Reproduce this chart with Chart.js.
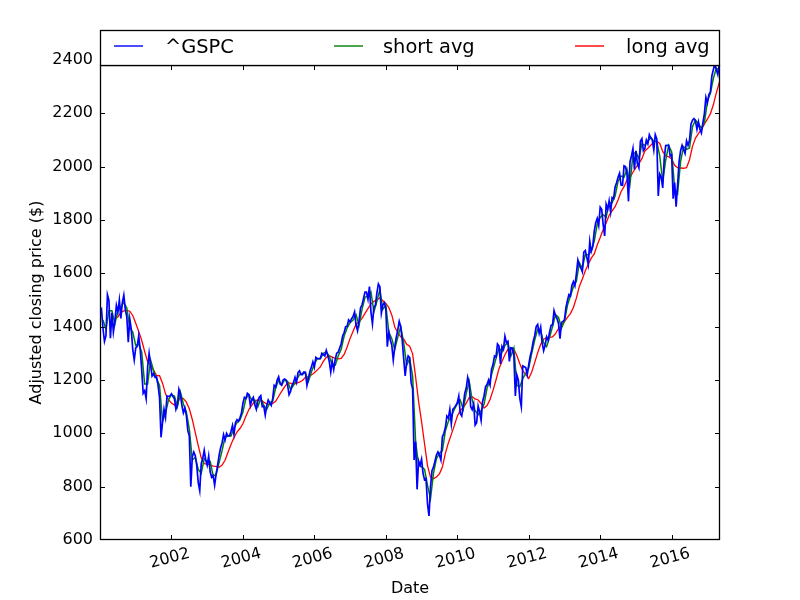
<!DOCTYPE html>
<html>
<head>
<meta charset="utf-8">
<title>^GSPC adjusted close</title>
<script src="https://cdn.jsdelivr.net/npm/chart.js@4.4.1/dist/chart.umd.min.js"></script>
<style>
  html, body { margin: 0; padding: 0; background: #fff; }
  canvas { display: block; }
</style>
</head>
<body>
<canvas id="priceChart" width="800" height="600"></canvas>
<script>
// ^GSPC adjusted close, two readings a month (month start, mid month), from Jan 2000
const gspc = [
  1455, 1465, 1394, 1345, 1366, 1520, 1499, 1357, 1452, 1380, 1421, 1480, 1455, 1500, 1431, 1490, 1518, 1465, 1437, 1342, 1429, 1390, 1315, 1275, 1320,
  1326, 1366, 1316, 1240, 1150, 1160, 1130, 1249, 1300, 1256, 1215, 1224, 1210, 1211, 1180, 1134, 985, 1041, 1090, 1060, 1140, 1139, 1140, 1148,
  1138, 1130, 1090, 1107, 1165, 1147, 1105, 1077, 1095, 1067, 1010, 990, 800, 912, 930, 916, 880, 815, 785, 886, 905, 936, 900, 880,
  915, 856, 835, 841, 805, 848, 880, 917, 945, 964, 995, 975, 1000, 990, 990, 1008, 1030, 996, 1040, 1051, 1045, 1058, 1075, 1112,
  1135, 1131, 1150, 1145, 1105, 1126, 1135, 1107, 1090, 1121, 1135, 1141, 1100, 1102, 1068, 1104, 1125, 1115, 1105, 1130, 1180, 1174, 1200, 1212,
  1185, 1181, 1200, 1204, 1200, 1181, 1145, 1157, 1180, 1191, 1210, 1191, 1228, 1234, 1220, 1220, 1230, 1229, 1180, 1207, 1232, 1249, 1268, 1248,
  1285, 1280, 1280, 1281, 1300, 1295, 1290, 1311, 1292, 1270, 1230, 1270, 1240, 1277, 1300, 1304, 1320, 1336, 1365, 1378, 1400, 1401, 1425, 1418,
  1430, 1438, 1455, 1407, 1385, 1421, 1470, 1482, 1505, 1530, 1530, 1503, 1550, 1455, 1410, 1474, 1480, 1527, 1560, 1549, 1450, 1481, 1490, 1468,
  1325, 1379, 1350, 1331, 1275, 1323, 1360, 1386, 1420, 1400, 1350, 1280, 1215, 1267, 1290, 1283, 1190, 1166, 900, 969, 790, 896, 880, 903,
  850, 826, 830, 735, 690, 798, 860, 873, 895, 919, 930, 919, 900, 987, 1000, 1021, 1065, 1057, 1090, 1036, 1090, 1096, 1105, 1115,
  1140, 1074, 1065, 1104, 1150, 1169, 1210, 1187, 1100, 1089, 1110, 1031, 1040, 1102, 1080, 1049, 1120, 1141, 1175, 1183, 1200, 1181, 1240, 1258,
  1290, 1286, 1335, 1327, 1260, 1326, 1315, 1364, 1340, 1345, 1270, 1321, 1320, 1292, 1140, 1219, 1200, 1131, 1100, 1253, 1250, 1247, 1220, 1258,
  1290, 1312, 1345, 1366, 1400, 1408, 1375, 1398, 1340, 1310, 1330, 1362, 1350, 1379, 1405, 1407, 1460, 1441, 1430, 1412, 1355, 1416, 1420, 1426,
  1472, 1498, 1520, 1515, 1555, 1569, 1553, 1598, 1650, 1631, 1620, 1606, 1680, 1686, 1660, 1633, 1720, 1682, 1700, 1757, 1790, 1806, 1780, 1848,
  1840, 1783, 1740, 1859, 1840, 1872, 1830, 1884, 1880, 1924, 1940, 1960, 1975, 1931, 1930, 2003, 2000, 1972, 1870, 2018, 2040, 2068, 1990, 2059,
  2010, 1995, 2095, 2105, 2060, 2068, 2100, 2086, 2120, 2107, 2100, 2063, 2120, 2104, 1890, 1972, 1960, 1920, 2030, 2079, 2080, 2080, 2040, 2044,
  1880, 1940, 1850, 1932, 2020, 2060, 2080, 2065, 2050, 2097, 2080, 2099, 2160, 2174, 2180, 2171, 2140, 2168, 2140, 2126, 2165, 2199, 2260, 2239,
  2270, 2279, 2340, 2364, 2385, 2363, 2345, 2384, 2392
];

// short avg, one value per month end, from Jan 2000
const shortAvg = [
  1425, 1390, 1460, 1460, 1410, 1460, 1475, 1490, 1470, 1395, 1380, 1330,
  1335, 1305, 1185, 1185, 1275, 1235, 1205, 1180, 1045, 1075, 1125, 1145,
  1140, 1100, 1155, 1110, 1080, 1015, 900, 910, 865, 850, 905, 895,
  895, 840, 845, 890, 935, 985, 990, 990, 1020, 1040, 1050, 1080,
  1130, 1145, 1125, 1125, 1100, 1130, 1105, 1090, 1115, 1120, 1170, 1200,
  1180, 1200, 1195, 1165, 1180, 1200, 1220, 1225, 1225, 1195, 1230, 1260,
  1280, 1280, 1300, 1305, 1290, 1255, 1255, 1290, 1315, 1365, 1395, 1415,
  1425, 1445, 1405, 1465, 1510, 1515, 1530, 1455, 1495, 1540, 1465, 1480,
  1380, 1355, 1315, 1360, 1400, 1340, 1255, 1280, 1215, 970, 880, 875,
  865, 805, 755, 850, 905, 925, 935, 1010, 1045, 1065, 1090, 1110,
  1125, 1090, 1150, 1195, 1125, 1085, 1070, 1085, 1110, 1170, 1200, 1240,
  1280, 1320, 1305, 1330, 1340, 1290, 1320, 1180, 1175, 1205, 1225, 1245,
  1300, 1350, 1390, 1385, 1340, 1325, 1360, 1400, 1445, 1435, 1395, 1420,
  1480, 1515, 1550, 1570, 1640, 1620, 1670, 1670, 1685, 1720, 1785, 1810,
  1820, 1810, 1865, 1865, 1890, 1945, 1965, 1960, 1990, 1935, 2045, 2055,
  2030, 2085, 2080, 2095, 2110, 2095, 2095, 2040, 1945, 2025, 2080, 2055,
  1920, 1900, 2020, 2075, 2065, 2070, 2150, 2175, 2160, 2145, 2165, 2245,
  2275, 2330, 2370, 2360, 2390
];

// long avg, one value per month end, from May 2000
const longAvg = [
  1429, 1436, 1453, 1459, 1461, 1458, 1442, 1413,
  1382, 1349, 1307, 1268, 1257, 1237, 1217, 1216, 1188, 1148, 1126, 1114,
  1106, 1117, 1133, 1130, 1117, 1092, 1052, 1003, 954, 908, 886, 885,
  882, 877, 876, 873, 881, 899, 929, 958, 984, 1005, 1018, 1036,
  1064, 1089, 1106, 1121, 1125, 1125, 1117, 1110, 1108, 1112, 1120, 1139,
  1157, 1174, 1189, 1188, 1184, 1188, 1192, 1198, 1210, 1213, 1219, 1227,
  1238, 1249, 1270, 1285, 1291, 1286, 1281, 1279, 1281, 1296, 1324, 1356,
  1383, 1409, 1417, 1431, 1450, 1468, 1485, 1495, 1501, 1507, 1497, 1487,
  1472, 1444, 1399, 1378, 1362, 1354, 1334, 1327, 1298, 1212, 1120, 1044,
  961, 879, 836, 830, 836, 848, 874, 925, 964, 996, 1029, 1064,
  1087, 1096, 1113, 1134, 1137, 1129, 1125, 1112, 1095, 1104, 1127, 1161,
  1200, 1242, 1269, 1295, 1315, 1317, 1317, 1292, 1261, 1234, 1221, 1206,
  1230, 1265, 1302, 1334, 1353, 1358, 1360, 1362, 1374, 1393, 1407, 1419,
  1435, 1449, 1472, 1507, 1551, 1579, 1610, 1634, 1657, 1673, 1706, 1734,
  1764, 1789, 1818, 1834, 1850, 1875, 1906, 1925, 1950, 1959, 1979, 1997,
  2011, 2030, 2059, 2069, 2080, 2093, 2095, 2087, 2057, 2040, 2037, 2029,
  2005, 1996, 1995, 1994, 1996, 2026, 2076, 2107, 2124, 2140, 2159, 2178,
  2198, 2232, 2277, 2316, 2345
];

const xTicks = [2002, 2004, 2006, 2008, 2010, 2012, 2014, 2016];
const yTicks = [600, 800, 1000, 1200, 1400, 1600, 1800, 2000, 2200, 2400];
const seriesNames = ['^GSPC', 'short avg', 'long avg'];
const seriesColors = ['#0000ff', '#008000', '#ff0000'];

window.onload = () => {
  Chart.defaults.font.family = '"DejaVu Sans", sans-serif';
  Chart.defaults.color = '#000';

  // matplotlib-ish frame: box, inward ticks, legend strip above the axes
  const framePlugin = {
    id: 'frame',
    afterDraw(chart) {
      const { ctx, chartArea: a, scales: { x, y } } = chart;
      ctx.save();
      ctx.strokeStyle = '#000';
      ctx.lineWidth = 1;
      ctx.beginPath();
      xTicks.forEach(v => {
        const px = Math.round(x.getPixelForValue(v)) + 0.5;
        ctx.moveTo(px, a.bottom); ctx.lineTo(px, a.bottom - 5);
        ctx.moveTo(px, a.top); ctx.lineTo(px, a.top + 5);
      });
      yTicks.forEach(v => {
        const py = Math.round(y.getPixelForValue(v)) + 0.5;
        if (py < a.top + 1 || py > a.bottom - 1) return;
        ctx.moveTo(a.left, py); ctx.lineTo(a.left + 5, py);
        ctx.moveTo(a.right, py); ctx.lineTo(a.right - 5, py);
      });
      ctx.stroke();

      ctx.lineWidth = 1.3;
      ctx.strokeRect(a.left + 0.5, a.top + 0.5, a.right - a.left - 1, a.bottom - a.top - 1);

      // legend
      const top = 30;
      ctx.fillStyle = '#fff';
      ctx.fillRect(a.left, top, a.right - a.left, a.top - top);
      ctx.strokeRect(a.left + 0.5, top + 0.5, a.right - a.left - 1, a.top - top);
      const slots = [[14, 65], [234, 283], [475, 526]];
      ctx.font = '19.4px "DejaVu Sans"';
      ctx.textBaseline = 'alphabetic';
      ctx.textAlign = 'left';
      seriesNames.forEach((name, i) => {
        const [lx, tx] = slots[i];
        ctx.strokeStyle = seriesColors[i];
        ctx.lineWidth = 1.4;
        ctx.beginPath();
        ctx.moveTo(a.left + lx, 46);
        ctx.lineTo(a.left + lx + 29, 46);
        ctx.stroke();
        ctx.fillStyle = '#000';
        ctx.fillText(name, a.left + tx, 53);
      });
      ctx.restore();
    }
  };

  const ctx = document.getElementById('priceChart').getContext('2d');
  new Chart(ctx, {
    type: 'line',
    data: {
      datasets: [
        {
          label: seriesNames[0],
          data: gspc.map((v, i) => ({ x: 2000 + i / 24, y: v })),
          borderColor: seriesColors[0],
          borderWidth: 1.7
        },
        {
          label: seriesNames[1],
          data: shortAvg.map((v, i) => ({ x: 2000 + (i + 1) / 12, y: v })),
          borderColor: seriesColors[1],
          borderWidth: 1.5
        },
        {
          label: seriesNames[2],
          data: longAvg.map((v, i) => ({ x: 2000 + (i + 5) / 12, y: v })),
          borderColor: seriesColors[2],
          borderWidth: 1.3
        }
      ]
    },
    options: {
      responsive: false,
      devicePixelRatio: 1,
      animation: false,
      events: [],
      elements: { point: { radius: 0 }, line: { tension: 0 } },
      layout: { padding: { top: 65, right: 80, bottom: 0, left: 0 } },
      plugins: {
        legend: { display: false },
        tooltip: { enabled: false }
      },
      scales: {
        x: {
          type: 'linear',
          min: 2000,
          max: 2017.353,
          afterBuildTicks: s => { s.ticks = xTicks.map(v => ({ value: v })); },
          afterFit: s => { s.height = 60; },
          grid: { display: false, drawTicks: false },
          border: { display: false },
          ticks: {
            autoSkip: false,
            minRotation: 15,
            maxRotation: 15,
            padding: 4,
            labelOffset: 18,
            font: { size: 16 },
            callback: v => String(v)
          },
          title: { display: true, text: 'Date', font: { size: 16 }, padding: { top: 0, bottom: 2 } }
        },
        y: {
          min: 600,
          max: 2381.25,
          afterBuildTicks: s => { s.ticks = yTicks.map(v => ({ value: v })); },
          afterFit: s => { s.width = 100; },
          grid: { display: false, drawTicks: false },
          border: { display: false },
          ticks: {
            padding: 7,
            font: { size: 16 },
            callback: v => String(v)
          },
          title: { display: true, text: 'Adjusted closing price ($)', font: { size: 16 }, padding: { top: 27, bottom: 0 } }
        }
      }
    },
    plugins: [framePlugin]
  });
};
</script>
</body>
</html>
